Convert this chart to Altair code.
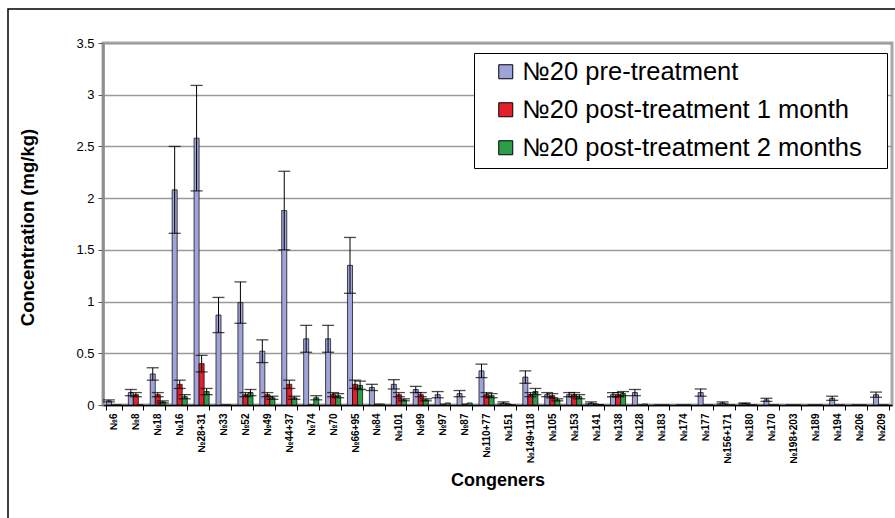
import altair as alt
import pandas as pd

# Congener labels along the x axis
congeners = [
    "№6", "№8", "№18", "№16", "№28+31", "№33", "№52", "№49", "№44+37", "№74",
    "№70", "№66+95", "№84", "№101", "№99", "№97", "№87", "№110+77", "№151",
    "№149+118", "№105", "№153", "№141", "№138", "№128", "№183", "№174", "№177",
    "№156+171", "№180", "№170", "№198+203", "№189", "№194", "№206", "№209",
]

series_names = [
    "№20 pre-treatment",
    "№20 post-treatment 1 month",
    "№20 post-treatment 2 months",
]
series_colors = ["#a0a3d8", "#e3202c", "#2c9e4a"]

# Mean concentrations (mg/kg) and their error (±)
pre = [0.04, 0.12, 0.30, 2.08, 2.58, 0.87, 0.99, 0.52, 1.88, 0.64,
       0.64, 1.35, 0.17, 0.20, 0.15, 0.10, 0.11, 0.33, 0.02,
       0.27, 0.10, 0.10, 0.02, 0.10, 0.12, 0.0, 0.0, 0.12,
       0.02, 0.015, 0.05, 0.0, 0.0, 0.065, 0.0, 0.10]
pre_err = [0.01, 0.03, 0.06, 0.42, 0.51, 0.17, 0.20, 0.11, 0.38, 0.13,
           0.13, 0.27, 0.03, 0.045, 0.03, 0.03, 0.03, 0.065, 0.01,
           0.06, 0.02, 0.02, 0.01, 0.02, 0.03, 0.0, 0.0, 0.035,
           0.01, 0.005, 0.015, 0.0, 0.0, 0.02, 0.0, 0.025]

post1 = [0.0, 0.10, 0.10, 0.20, 0.40, 0.0, 0.10, 0.10, 0.20, 0.0,
         0.10, 0.20, 0.01, 0.10, 0.10, 0.01, 0.01, 0.10, 0.01,
         0.10, 0.09, 0.10, 0.01, 0.10, 0.0, 0.0, 0.0, 0.0,
         0.0, 0.0, 0.0, 0.0, 0.0, 0.0, 0.0, 0.0]
post1_err = [0.0, 0.02, 0.02, 0.04, 0.08, 0.0, 0.02, 0.02, 0.04, 0.0,
             0.02, 0.04, 0.0, 0.02, 0.02, 0.0, 0.0, 0.02, 0.0,
             0.02, 0.02, 0.02, 0.0, 0.02, 0.0, 0.0, 0.0, 0.0,
             0.0, 0.0, 0.0, 0.0, 0.0, 0.0, 0.0, 0.0]

post2 = [0.0, 0.0, 0.03, 0.08, 0.13, 0.0, 0.12, 0.07, 0.07, 0.07,
         0.09, 0.19, 0.01, 0.05, 0.05, 0.02, 0.02, 0.09, 0.0,
         0.13, 0.05, 0.08, 0.005, 0.11, 0.01, 0.0, 0.0, 0.0,
         0.0, 0.0, 0.0, 0.0, 0.0, 0.0, 0.0, 0.0]
post2_err = [0.0, 0.0, 0.01, 0.02, 0.03, 0.0, 0.03, 0.015, 0.015, 0.02,
             0.02, 0.04, 0.0, 0.01, 0.01, 0.0, 0.0, 0.02, 0.0,
             0.03, 0.01, 0.02, 0.0, 0.02, 0.0, 0.0, 0.0, 0.0,
             0.0, 0.0, 0.0, 0.0, 0.0, 0.0, 0.0, 0.0]

rows = []
for name, vals, errs in zip(series_names, [pre, post1, post2], [pre_err, post1_err, post2_err]):
    for c, v, e in zip(congeners, vals, errs):
        rows.append({"congener": c, "series": name, "value": v, "err": e})
df = pd.DataFrame(rows)

FONT = "Liberation Sans"
Y_TITLE = "Concentration (mg/kg)"

x_enc = alt.X(
    "congener:N",
    sort=congeners,
    title="Congeners",
    scale=alt.Scale(paddingInner=0.31, paddingOuter=0.155),
    axis=alt.Axis(
        labelAngle=-90, tickBand="extent", labelFontWeight="bold", labelFontSize=10,
        labelPadding=3, tickSize=5, tickColor="black", domainColor="black",
        domainWidth=1.5, titleFontSize=18, titleFontWeight="bold",
        titleY=75, titleBaseline="middle", grid=False,
    ),
)
x_plain = alt.X("congener:N", sort=congeners)
xo_enc = alt.XOffset("series:N", sort=series_names,
                     scale=alt.Scale(paddingInner=0, paddingOuter=0))
y_scale = alt.Scale(domain=[0, 3.5], nice=False)
y_enc = alt.Y(
    "value:Q",
    scale=y_scale,
    title=Y_TITLE,
    axis=alt.Axis(
        values=[0, 0.5, 1, 1.5, 2, 2.5, 3, 3.5], format="~g",
        labelFontSize=13, labelPadding=4, tickSize=5, tickColor="#555555",
        domainColor="#8c8c8c", domainWidth=2.5,
        grid=True, gridColor="#9a9a9a", gridWidth=1.5,
        titleFontSize=18.5, titleFontWeight="bold", titleAngle=-90,
        titleX=-76, titleY=184, titleAlign="center", titleBaseline="middle",
    ),
)

color_enc = alt.Color(
    "series:N",
    sort=series_names,
    scale=alt.Scale(domain=series_names, range=series_colors),
    legend=alt.Legend(
        title=" ", titleOrient="right", titlePadding=19, titleFontSize=4,
        orient="none", legendX=371, legendY=10,
        padding=6, fillColor="white", strokeColor="black",
        symbolType="square", symbolSize=196, symbolStrokeColor="black",
        symbolStrokeWidth=1, symbolOffset=13, labelOffset=4,
        labelFontSize=25.5, labelFont=FONT, labelLimit=600, rowPadding=11,
    ),
)

# Outer frame around the whole figure
frame = alt.Chart(pd.DataFrame({"k": [0]})).mark_rect(
    fill=None, stroke="black", strokeWidth=1.5
).encode(
    x=alt.value(-95), x2=alt.value(900), y=alt.value(-34), y2=alt.value(600)
)

base = alt.Chart(df)
bars = base.mark_bar(stroke="black", strokeWidth=0.7).encode(
    x=x_enc, xOffset=xo_enc, y=y_enc, color=color_enc
)

err = base.transform_filter("datum.err > 0").transform_calculate(
    lo="datum.value - datum.err", hi="datum.value + datum.err"
)
whiskers = err.mark_rule(color="black", strokeWidth=1).encode(
    x=x_plain, xOffset=xo_enc,
    y=alt.Y("lo:Q", scale=y_scale, title=Y_TITLE), y2="hi:Q",
)
cap_hi = err.mark_tick(color="black", size=12, thickness=1.3).encode(
    x=x_plain, xOffset=xo_enc, y=alt.Y("hi:Q", scale=y_scale, title=Y_TITLE)
)
cap_lo = err.mark_tick(color="black", size=12, thickness=1.3).encode(
    x=x_plain, xOffset=xo_enc, y=alt.Y("lo:Q", scale=y_scale, title=Y_TITLE)
)

chart = alt.layer(frame, bars, whiskers, cap_hi, cap_lo).properties(
    width=789, height=362,
    autosize=alt.AutoSizeParams(type="none"),
    padding={"left": 103, "top": 43, "right": 3, "bottom": 113},
).configure(font=FONT).configure_view(
    stroke="#a8a8a8", strokeWidth=3
).configure_axis(labelFont=FONT, titleFont=FONT, labelColor="black", titleColor="black")

chart.save("out.html", embed_options={"renderer": "svg", "actions": False})
